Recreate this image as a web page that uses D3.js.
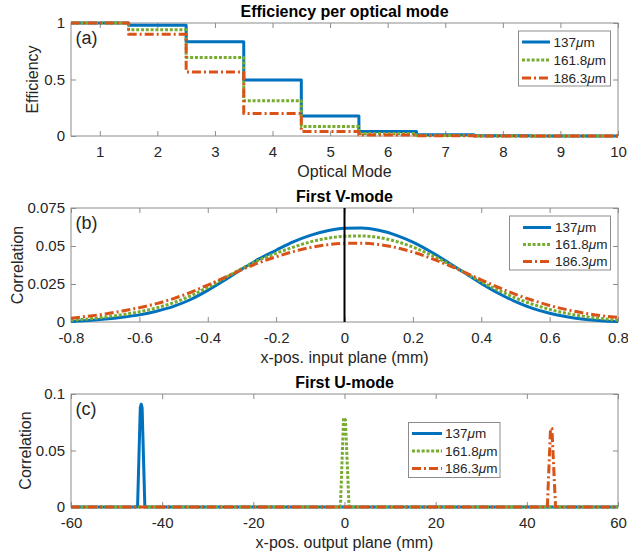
<!DOCTYPE html>
<html>
<head>
<meta charset="utf-8">
<script src="https://cdn.jsdelivr.net/npm/d3@7"></script>
<style>
  body { margin: 0; background: #fff; }
  text { font-family: "Liberation Sans", Arial, Helvetica, sans-serif; fill: #262626; }
</style>
</head>
<body>
<script>
/* global d3 */

// ---- data ----
var seriesNames = ["137", "161.8", "186.3"];
var colors = ["#0072BD", "#77AC30", "#D95319"];
var dashes = [null, "3,1.8", "9,3,2,3"];

// (a) efficiency per optical mode
var modes = [1, 2, 3, 4, 5, 6, 7, 8, 9, 10];
var eff137 = [1.0, 0.98, 0.833, 0.495, 0.178, 0.04, 0.011, 0.002, 0.001, 0.001];
var eff161 = [1.0, 0.94, 0.695, 0.313, 0.085, 0.022, 0.004, 0.001, 0.0, 0.0];
var eff186 = [1.0, 0.90, 0.566, 0.20, 0.04, 0.008, 0.002, 0.0, 0.0, 0.0];
var modeTicks = [1, 2, 3, 4, 5, 6, 7, 8, 9, 10];
var effTicks = [0, 0.5, 1];

// (b) first V-mode
var vPos = [-0.8, -0.75, -0.7, -0.65, -0.6, -0.55, -0.5, -0.45, -0.4, -0.35, -0.3, -0.25, -0.2, -0.15, -0.1, -0.05,
  0, 0.05, 0.1, 0.15, 0.2, 0.25, 0.3, 0.35, 0.4, 0.45, 0.5, 0.55, 0.6, 0.65, 0.7, 0.75, 0.8];
var v137 = [0.0003, 0.001, 0.0019, 0.0031, 0.0047, 0.0071, 0.0103, 0.0148, 0.0208, 0.0276, 0.0348, 0.0415, 0.0472, 0.0527, 0.057, 0.06,
  0.0616, 0.0618, 0.0603, 0.0572, 0.0525, 0.0465, 0.0397, 0.0325, 0.0254, 0.0189, 0.0134, 0.009, 0.0058, 0.0035, 0.0018, 0.0008, 0.0003];
var v161 = [0.0012, 0.002, 0.0033, 0.0048, 0.0067, 0.0093, 0.0127, 0.0172, 0.0228, 0.029, 0.0352, 0.0408, 0.0452, 0.0492, 0.0527, 0.0551,
  0.0564, 0.0566, 0.0556, 0.0531, 0.0493, 0.0444, 0.0387, 0.0326, 0.0265, 0.0208, 0.0158, 0.0117, 0.0083, 0.0057, 0.0037, 0.0023, 0.0013];
var v186 = [0.0025, 0.0038, 0.0053, 0.0072, 0.0094, 0.0121, 0.0154, 0.0195, 0.0243, 0.0294, 0.0344, 0.039, 0.0429, 0.0463, 0.049, 0.0508,
  0.0517, 0.0518, 0.051, 0.049, 0.046, 0.0422, 0.0377, 0.0328, 0.0277, 0.0228, 0.0182, 0.0143, 0.0109, 0.0081, 0.0059, 0.0042, 0.003];
var vTicksX = [-0.8, -0.6, -0.4, -0.2, 0, 0.2, 0.4, 0.6, 0.8];
var vTicksY = [0, 0.025, 0.05, 0.075];

// (c) first U-mode
var uPos137 = [-60, -45.4, -44.8, -44.6, -44.4, -43.8, 60];
var u137 = [0, 0, 0.088, 0.091, 0.088, 0, 0];
var uPos161 = [-60, -0.9, -0.2, 0.2, 1.0, 60];
var u161 = [0, 0, 0.079, 0.077, 0, 0];
var uPos186 = [-60, 44.5, 45.2, 45.5, 46.3, 60];
var u186 = [0, 0, 0.0695, 0.0695, 0, 0];
var uTicksX = [-60, -40, -20, 0, 20, 40, 60];
var uTicksY = [0, 0.05, 0.1];

// ---- layout ----
var width = 628, height = 555;
var left = 71, right = 618;
var axisColor = "#8c8c8c";

var svg = d3.select("body").append("svg")
    .attr("width", width)
    .attr("height", height);

function fmt(v) {
    return String(+v.toFixed(4));
}

function panel(opt, idx) {
    var x = d3.scaleLinear().domain(opt.xDomain).range([left, right]);
    var y = d3.scaleLinear().domain(opt.yDomain).range([opt.bottom, opt.top]);
    var g = svg.append("g");

    g.append("clipPath").attr("id", "clip" + idx)
        .append("rect")
        .attr("x", left).attr("y", opt.top - 5)
        .attr("width", right - left).attr("height", opt.bottom - opt.top + 10);

    // axes (inward ticks, box on)
    var ax = [
        {a: d3.axisBottom(x).tickValues(opt.xTicks).tickFormat(fmt).tickPadding(10), t: "translate(0," + opt.bottom + ")"},
        {a: d3.axisTop(x).tickValues(opt.xTicks).tickFormat(""), t: "translate(0," + opt.top + ")"},
        {a: d3.axisLeft(y).tickValues(opt.yTicks).tickFormat(fmt).tickPadding(6), t: "translate(" + left + ",0)"},
        {a: d3.axisRight(y).tickValues(opt.yTicks).tickFormat(""), t: "translate(" + right + ",0)"}
    ];
    ax.forEach(function (d) {
        var ag = g.append("g").attr("transform", d.t)
            .call(d.a.tickSizeInner(-5).tickSizeOuter(0));
        ag.select(".domain").remove();
        ag.selectAll("line").attr("stroke", axisColor);
        ag.selectAll("text").attr("font-size", 15).attr("fill", "#262626")
            .style("font-family", "'Liberation Sans', Arial, sans-serif");
    });

    g.append("rect")
        .attr("x", left).attr("y", opt.top)
        .attr("width", right - left).attr("height", opt.bottom - opt.top)
        .attr("fill", "none").attr("stroke", axisColor).attr("stroke-width", 1);

    var line = d3.line()
        .curve(opt.curve)
        .x(function (d) { return x(d[0]); })
        .y(function (d) { return y(d[1]); });

    var lines = g.append("g").attr("clip-path", "url(#clip" + idx + ")");
    opt.series.forEach(function (s, i) {
        lines.append("path")
            .datum(s)
            .attr("d", line)
            .attr("fill", "none")
            .attr("stroke", colors[i])
            .attr("stroke-width", 3)
            .attr("stroke-linejoin", "round")
            .attr("stroke-dasharray", dashes[i]);
    });

    if (opt.zeroLine) {
        g.append("line")
            .attr("x1", x(0)).attr("x2", x(0))
            .attr("y1", y(opt.yDomain[0])).attr("y2", y(opt.yDomain[1]))
            .attr("stroke", "#000").attr("stroke-width", 2);
    }

    // title, labels
    g.append("text")
        .attr("x", (left + right) / 2).attr("y", opt.top - 6)
        .attr("text-anchor", "middle")
        .attr("font-size", 16).attr("font-weight", "bold")
        .style("fill", "#000")
        .text(opt.title);

    g.append("text")
        .attr("x", (left + right) / 2).attr("y", opt.bottom + 41)
        .attr("text-anchor", "middle")
        .attr("font-size", 16)
        .text(opt.xLabel);

    g.append("text")
        .attr("transform", "translate(" + opt.yLabelX + "," + ((opt.top + opt.bottom) / 2) + ") rotate(-90)")
        .attr("text-anchor", "middle")
        .attr("font-size", 16)
        .text(opt.yLabel);

    g.append("text")
        .attr("x", 75.5).attr("y", opt.top + 20.5)
        .attr("font-size", 18)
        .text(opt.tag);

    // legend
    var L = opt.legend;
    g.append("rect")
        .attr("x", L.x).attr("y", L.y).attr("width", L.w).attr("height", L.h)
        .attr("fill", "#fff").attr("stroke", axisColor).attr("stroke-width", 1);
    seriesNames.forEach(function (name, i) {
        var ry = L.rows[i];
        g.append("line")
            .attr("x1", L.lx0).attr("x2", L.lx1)
            .attr("y1", ry).attr("y2", ry)
            .attr("stroke", colors[i]).attr("stroke-width", 3)
            .attr("stroke-dasharray", dashes[i]);
        var t = g.append("text")
            .attr("x", L.tx).attr("y", ry).attr("dy", "0.36em")
            .attr("font-size", 13.5);
        t.append("tspan").text(name);
        t.append("tspan").attr("font-style", "italic").text("\u03bc");
        t.append("tspan").text("m");
    });
}

function zip(xs, ys) {
    return xs.map(function (v, i) { return [v, ys[i]]; });
}

function stairs(vals) {
    var pts = modes.map(function (m, i) { return [m - 0.5, vals[i]]; });
    pts.push([modes[modes.length - 1] + 0.5, vals[vals.length - 1]]);
    return pts;
}

panel({
    top: 23, bottom: 136, xDomain: [0.5, 10], yDomain: [0, 1],
    xTicks: modeTicks, yTicks: effTicks,
    title: "Efficiency per optical mode", xLabel: "Optical Mode", yLabel: "Efficiency", yLabelX: 37.5,
    tag: "(a)", curve: d3.curveStepAfter,
    series: [stairs(eff137), stairs(eff161), stairs(eff186)],
    legend: {x: 518.5, y: 31, w: 92, h: 55, lx0: 522, lx1: 550, tx: 553.5, rows: [42, 60, 78]}
}, 0);

panel({
    top: 208, bottom: 322, xDomain: [-0.8, 0.8], yDomain: [0, 0.075],
    xTicks: vTicksX, yTicks: vTicksY,
    title: "First V-mode", xLabel: "x-pos. input plane (mm)", yLabel: "Correlation", yLabelX: 22.5,
    tag: "(b)", curve: d3.curveMonotoneX, zeroLine: true,
    series: [zip(vPos, v137), zip(vPos, v161), zip(vPos, v186)],
    legend: {x: 509.5, y: 216, w: 101, h: 54, lx0: 523, lx1: 551, tx: 555, rows: [227.5, 244.5, 261.5]}
}, 1);

panel({
    top: 394, bottom: 507, xDomain: [-60, 60], yDomain: [0, 0.1],
    xTicks: uTicksX, yTicks: uTicksY,
    title: "First U-mode", xLabel: "x-pos. output plane (mm)", yLabel: "Correlation", yLabelX: 31,
    tag: "(c)", curve: d3.curveLinear,
    series: [zip(uPos137, u137), zip(uPos161, u161), zip(uPos186, u186)],
    legend: {x: 408.5, y: 422.5, w: 91.5, h: 55, lx0: 412, lx1: 442, tx: 445, rows: [433.5, 451, 468.5]}
}, 2);
</script>
</body>
</html>
